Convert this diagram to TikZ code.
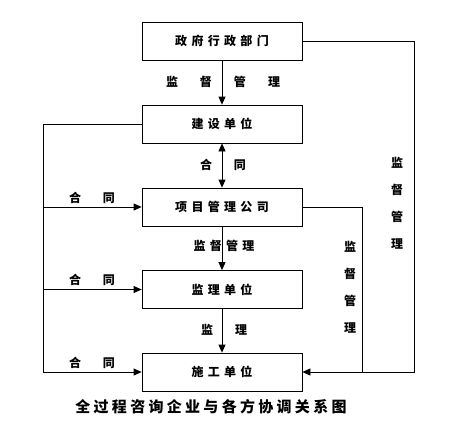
\documentclass[tikz,border=0pt]{standalone}
\usepackage{fontspec}
\newfontfamily\cjk{Noto Sans CJK SC}
\newfontfamily\cjkbox[LetterSpace=36]{Noto Sans CJK SC}
\newfontfamily\cjkcap[LetterSpace=22]{Noto Sans CJK SC}
\usetikzlibrary{arrows.meta,positioning,calc}
\newcommand\gap{\hspace{22pt}}
\begin{document}
\begin{tikzpicture}[x=1pt,y=-1pt,>={Triangle[length=8pt,width=7pt]},line width=0.8pt,font=\cjk\bfseries\fontsize{12pt}{14pt}\selectfont]
\tikzstyle{box}=[draw,minimum width=160pt,minimum height=38pt,inner sep=0pt,font=\cjkbox\bfseries\fontsize{12pt}{14pt}\selectfont]
\tikzstyle{lbl}=[inner sep=0pt,font=\cjk\bfseries\fontsize{12pt}{14pt}\selectfont]
\tikzstyle{vlbl}=[inner sep=0pt,align=center,font=\cjk\bfseries\fontsize{12pt}{27pt}\selectfont]
\useasboundingbox (0,0) rectangle (457,423);
% boxes
\node[box] (b1) at (222,41) {政府行政部门};
\node[box] (b2) at (222,124) {建设单位};
\node[box] (b3) at (222,207) {项目管理公司};
\node[box] (b4) at (222,289.5) {监理单位};
\node[box] (b5) at (222,372) {施工单位};
% middle arrows
\draw[->] (b1.south) -- (b2.north); \node[lbl] (l12) at (223,82) {监\gap 督\gap 管\gap 理};
\draw[<->] (b2.south) -- (b3.north); \node[lbl] (l23) at (223,165) {合\gap 同};
\draw[->] (b3.south) -- (b4.north); \node[lbl,font=\cjkbox\bfseries\fontsize{12pt}{14pt}\selectfont] (l34) at (224,246) {监督管理};
\draw[->] (b4.south) -- (b5.north); \node[lbl] (l45) at (224,330) {监\gap 理};
% left contract lines
\coordinate (lt) at (43,124); \coordinate (lb) at (43,372);
\draw[->] (b2.west) -- (lt) -- (lb) -- (b5.west);
\draw[->] (lt |- b3.west) -- (b3.west); \draw[->] (lt |- b4.west) -- (b4.west);
\node[lbl] (c3) at (92,198) {合\gap 同}; \node[lbl] (c4) at (92,280) {合\gap 同}; \node[lbl] (c5) at (92,363) {合\gap 同};
% right supervision lines
\coordinate (rt) at (414,41); \coordinate (rb) at (414,372); \coordinate (mt) at (362,207);
\draw[->] (b1.east) -- (rt) -- (rb) -- (b5.east);
\draw (b3.east) -- (mt) -- (mt |- rb);
\node[vlbl] (v1) at (397,203) {监\\督\\管\\理};
\node[vlbl] (v2) at (350,287) {监\\督\\管\\理};
% caption
\node[inner sep=0pt,font=\cjkcap\bfseries\fontsize{15pt}{18pt}\selectfont] (cap) at (211,407) {全过程咨询企业与各方协调关系图};
\end{tikzpicture}
\end{document}
